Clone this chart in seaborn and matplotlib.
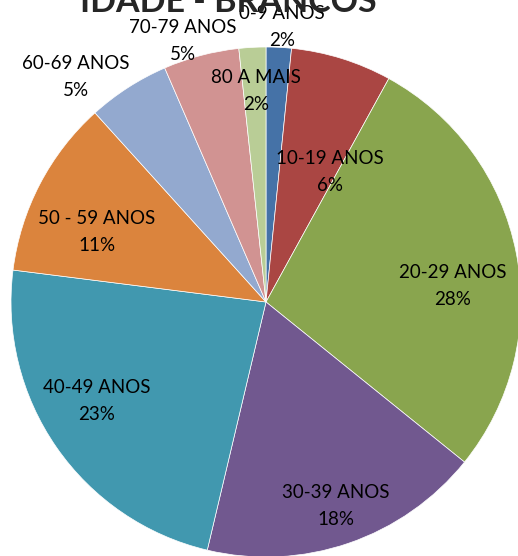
import matplotlib
matplotlib.use("Agg")
import matplotlib.pyplot as plt
import seaborn as sns

sns.set_theme(style="white")
plt.rcParams['font.family'] = ['Lato', 'DejaVu Sans']

# age groups and share of cases (%)
faixas = ["0-9 ANOS", "10-19 ANOS", "20-29 ANOS", "30-39 ANOS", "40-49 ANOS",
          "50 - 59 ANOS", "60-69 ANOS", "70-79 ANOS", "80 A MAIS"]
valores = [1.6, 6.4, 27.8, 17.9, 23.3, 11.3, 5.2, 4.8, 1.7]

cores = ["#4572A7", "#AA4643", "#89A54E", "#71588F", "#4198AF",
         "#DB843D", "#93A9CF", "#D19392", "#B9CD96"]

# where each data label sits (pie radius = 1)
label_pos = [(0.063, 1.078), (0.251, 0.510), (0.733, 0.063), (0.275, -0.800),
             (-0.663, -0.388), (-0.663, 0.275), (-0.745, 0.882),
             (-0.325, 1.024), (-0.039, 0.827)]

W, H = 518, 556
cx, cy, r = 266, 302, 255

fig = plt.figure(figsize=(W / 100, H / 100), dpi=100)
ax = fig.add_axes([0, 0, 1, 1])

ax.pie(valores, colors=cores, startangle=90, counterclock=False, radius=1,
       wedgeprops=dict(edgecolor="white", linewidth=0.5))

ax.set_xlim(-cx / r, (W - cx) / r)
ax.set_ylim(-(H - cy) / r, cy / r)
ax.set_aspect("equal")
ax.axis("off")

total = sum(valores)
for nome, v, (x, y) in zip(faixas, valores, label_pos):
    ax.text(x, y, f"{nome}\n{round(v / total * 100):.0f}%", ha="center",
            va="center", fontsize=13.5, linespacing=1.75, color="black")

fig.text(228 / W, 1 - 12 / H, "IDADE - BRANCOS", ha="center", va="baseline",
         fontsize=24.5, fontweight="bold")

plt.savefig("out.png", dpi=100)
plt.close()
